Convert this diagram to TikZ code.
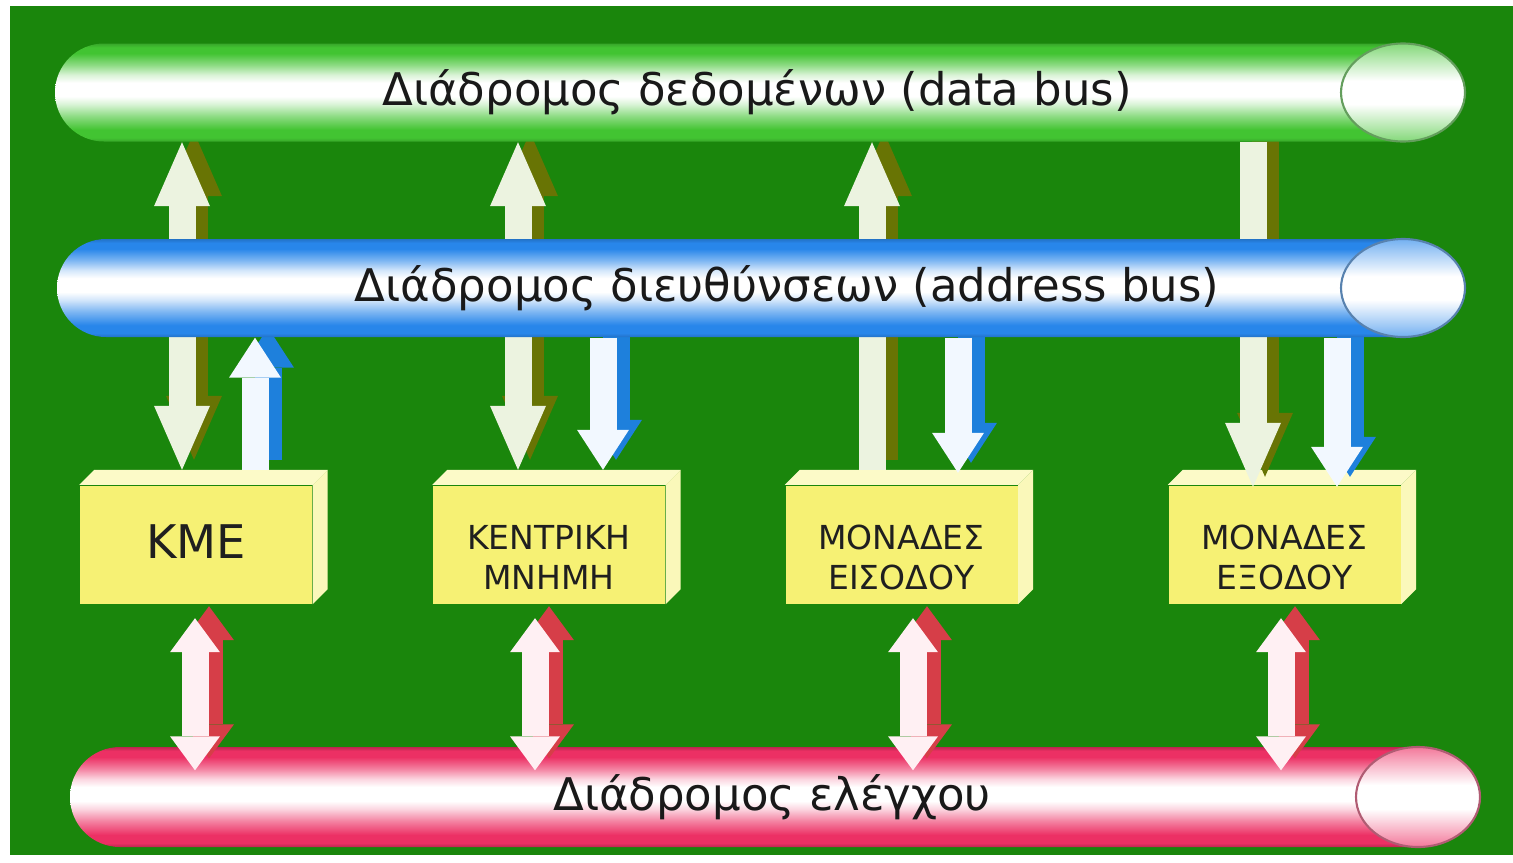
\documentclass[tikz,border=0pt]{standalone}
\usepackage{fontspec}
\setmainfont{DejaVu Sans}
\usetikzlibrary{arrows.meta}
\definecolor{bgG}{RGB}{26,134,12}
\definecolor{gbC}{RGB}{66,196,50}
\definecolor{bbC}{RGB}{40,134,234}
\definecolor{rbC}{RGB}{236,48,100}
\definecolor{boxY}{RGB}{246,241,116}
\definecolor{boxTop}{RGB}{252,250,200}
\definecolor{boxSide}{RGB}{250,248,186}
\definecolor{dArr}{RGB}{236,243,224}
\definecolor{dSh}{RGB}{104,116,4}
\definecolor{aArr}{RGB}{242,248,255}
\definecolor{aSh}{RGB}{30,128,220}
\definecolor{cArr}{RGB}{255,240,243}
\definecolor{cSh}{RGB}{214,62,72}
\pgfdeclareverticalshading{gbus}{100bp}{color(0bp)=(gbC!85!black); color(25bp)=(gbC!85!black); color(27bp)=(gbC); color(31bp)=(gbC); color(38bp)=(gbC!60!white); color(44bp)=(gbC!20!white); color(48bp)=(white); color(55bp)=(white); color(59bp)=(gbC!20!white); color(64bp)=(gbC!60!white); color(70bp)=(gbC); color(73bp)=(gbC); color(75bp)=(gbC!85!black); color(100bp)=(gbC!85!black)}
\pgfdeclareverticalshading{bbus}{100bp}{color(0bp)=(bbC!85!black); color(25bp)=(bbC!85!black); color(27bp)=(bbC); color(31bp)=(bbC); color(38bp)=(bbC!60!white); color(44bp)=(bbC!20!white); color(48bp)=(white); color(55bp)=(white); color(59bp)=(bbC!20!white); color(64bp)=(bbC!60!white); color(70bp)=(bbC); color(73bp)=(bbC); color(75bp)=(bbC!85!black); color(100bp)=(bbC!85!black)}
\pgfdeclareverticalshading{rbus}{100bp}{color(0bp)=(rbC!80!black); color(25bp)=(rbC!80!black); color(27bp)=(rbC); color(31bp)=(rbC); color(38bp)=(rbC!60!white); color(44bp)=(rbC!20!white); color(48bp)=(white); color(55bp)=(white); color(59bp)=(rbC!20!white); color(64bp)=(rbC!60!white); color(70bp)=(rbC); color(73bp)=(rbC); color(75bp)=(rbC!80!black); color(100bp)=(rbC!80!black)}
\pgfdeclareverticalshading{gcap}{100bp}{color(0bp)=(gbC!65!white); color(25bp)=(gbC!65!white); color(44bp)=(white); color(56bp)=(white); color(75bp)=(gbC!65!white); color(100bp)=(gbC!65!white)}
\pgfdeclareverticalshading{bcap}{100bp}{color(0bp)=(bbC!65!white); color(25bp)=(bbC!65!white); color(44bp)=(white); color(56bp)=(white); color(75bp)=(bbC!65!white); color(100bp)=(bbC!65!white)}
\pgfdeclareverticalshading{rcap}{100bp}{color(0bp)=(rbC!65!white); color(25bp)=(rbC!65!white); color(44bp)=(white); color(56bp)=(white); color(75bp)=(rbC!65!white); color(100bp)=(rbC!65!white)}
\pgfdeclarelayer{back}
\pgfdeclarelayer{mid}
\pgfdeclarelayer{front}
\pgfsetlayers{back,mid,main,front}
% #1 body shading, #2 cap shading, #3 cap outline, #4 left x, #5 cap centre x, #6 centre y, #7 half height
\newcommand{\drawbus}[7]{%
  \shade[shading=#1] (#5,#6+#7) -- (#4+#7,#6+#7) arc[start angle=90,end angle=270,x radius=#7,y radius=#7] -- (#5,#6-#7) -- cycle;
  \shade[shading=#2, draw=#3, line width=0.6pt] (#5,#6) ellipse[x radius=0.62, y radius=#7];
}
\newcommand{\boxbevel}[1]{%
  \fill[boxTop] (#1.north west) -- ([shift={(0.15,0.15)}]#1.north west) -- ([shift={(0.15,0.15)}]#1.north east) -- (#1.north east) -- cycle;
  \fill[boxSide] (#1.north east) -- ([shift={(0.15,0.15)}]#1.north east) -- ([shift={(0.15,0.15)}]#1.south east) -- (#1.south east) -- cycle;
}
\tikzset{
  dtip/.tip={Triangle[width=0.56cm,length=0.64cm,line width=0pt]},
  atip/.tip={Triangle[width=0.52cm,length=0.40cm,line width=0pt]},
  ctip/.tip={Triangle[width=0.50cm,length=0.34cm,line width=0pt]},
  shaft/.style={line width=0.27cm},
  dmain/.style={shaft, draw=dArr},
  dshade/.style={shaft, draw=dSh, transform canvas={shift={(0.12,0.10)}}},
  amain/.style={shaft, draw=aArr},
  ashade/.style={shaft, draw=aSh, transform canvas={shift={(0.13,0.10)}}},
  cmain/.style={shaft, draw=cArr},
  cshade/.style={shaft, draw=cSh, transform canvas={shift={(0.14,0.12)}}},
  bustxt/.style={inner sep=0pt, text=black!90, font=\fontsize{12.8}{15}\selectfont},
  unitbox/.style={rectangle, fill=boxY, minimum width=2.32cm, minimum height=1.18cm, inner sep=0pt},
  boxtxt/.style={align=center, inner sep=0pt, text=black!88, font=\fontsize{9.4}{11.4}\selectfont},
}
\begin{document}
\begin{tikzpicture}
\useasboundingbox (0,0) rectangle (15.13,8.62);
\begin{pgfonlayer}{back}
  \fill[white] (0,0) rectangle (15.13,8.62);
  \fill[bgG] (0.10,0.07) rectangle (15.13,8.56);
  % boxes
  \node[unitbox] (kme) at (1.96,3.175) {};
  \node[unitbox] (mem) at (5.49,3.175) {};
  \node[unitbox] (inp) at (9.015,3.175) {};
  \node[unitbox] (out) at (12.845,3.175) {};
  \boxbevel{kme}\boxbevel{mem}\boxbevel{inp}\boxbevel{out}
  \node[boxtxt, font=\fontsize{13.2}{16}\selectfont] (kmetxt) at ([yshift=0.03cm]kme.center) {ΚΜΕ};
  \node[boxtxt] (memtxt) at ([yshift=-0.13cm]mem.center) {ΚΕΝΤΡΙΚΗ\\ΜΝΗΜΗ};
  \node[boxtxt] (inptxt) at ([yshift=-0.13cm]inp.center) {ΜΟΝΑΔΕΣ\\ΕΙΣΟΔΟΥ};
  \node[boxtxt] (outtxt) at ([yshift=-0.13cm]out.center) {ΜΟΝΑΔΕΣ\\ΕΞΟΔΟΥ};
\end{pgfonlayer}
% buses
\drawbus{gbus}{gcap}{gbC!45!gray}{0.55}{14.03}{7.695}{0.49}
\drawbus{bbus}{bcap}{bbC!45!gray}{0.57}{14.03}{5.74}{0.49}
\drawbus{rbus}{rcap}{rbC!45!gray}{0.70}{14.18}{0.65}{0.50}
\node[bustxt, minimum height=0.98cm] (dbus) at (7.57,7.695) {Διάδρομος δεδομένων (data bus)};
\node[bustxt, minimum height=0.98cm] (abus) at (7.87,5.74) {Διάδρομος διευθύνσεων (address bus)};
\node[bustxt, minimum height=1.00cm] (cbus) at (7.72,0.65) {Διάδρομος ελέγχου};
% helper coordinates
\coordinate (xd1) at (1.82,0);  \coordinate (xd2) at (5.18,0);
\coordinate (xd3) at (8.72,0);  \coordinate (xd4) at (12.53,0);
\coordinate (xa1) at (2.55,0);  \coordinate (xa2) at (6.03,0);
\coordinate (xa3) at (9.58,0);  \coordinate (xa4) at (13.37,0);
\coordinate (xc1) at (1.95,0);  \coordinate (xc2) at (5.35,0);
\coordinate (xc3) at (9.13,0);  \coordinate (xc4) at (12.81,0);
\coordinate (kmeT) at ([yshift=0.15cm]kme.north);
\coordinate (memT) at ([yshift=0.15cm]mem.north);
\coordinate (inpT) at ([yshift=0.15cm]inp.north);
\coordinate (inpTd) at ([yshift=0.12cm]inp.north);
\coordinate (outTd) at ([yshift=-0.02cm]out.north);
\coordinate (kmeB) at ([yshift=-0.14cm]kme.south);
\coordinate (memB) at ([yshift=-0.14cm]mem.south);
\coordinate (inpB) at ([yshift=-0.14cm]inp.south);
\coordinate (outB) at ([yshift=-0.14cm]out.south);
\coordinate (cbusIn) at ([yshift=-0.24cm]cbus.north);
\begin{pgfonlayer}{mid}
  % data bus connections
  \draw[dshade, dtip-dtip] (dbus.south -| xd1) -- (kmeT -| xd1);
  \draw[dmain,  dtip-dtip] (dbus.south -| xd1) -- (kmeT -| xd1);
  \draw[dshade, dtip-dtip] (dbus.south -| xd2) -- (memT -| xd2);
  \draw[dmain,  dtip-dtip] (dbus.south -| xd2) -- (memT -| xd2);
  \draw[dshade, -dtip] (inpT -| xd3) -- (dbus.south -| xd3);
  \draw[dmain,  -dtip] (inpT -| xd3) -- (dbus.south -| xd3);
  \draw[dshade, -dtip] (dbus.south -| xd4) -- (outTd -| xd4);
  \draw[dmain,  -dtip] (dbus.south -| xd4) -- (outTd -| xd4);
  % address bus connections
  \draw[ashade, -atip] (kmeT -| xa1) -- (abus.south -| xa1);
  \draw[amain,  -atip] (kmeT -| xa1) -- (abus.south -| xa1);
  \draw[ashade, -atip] (abus.south -| xa2) -- (memT -| xa2);
  \draw[amain,  -atip] (abus.south -| xa2) -- (memT -| xa2);
  \draw[ashade, -atip] (abus.south -| xa3) -- (inpTd -| xa3);
  \draw[amain,  -atip] (abus.south -| xa3) -- (inpTd -| xa3);
  \draw[ashade, -atip] (abus.south -| xa4) -- (outTd -| xa4);
  \draw[amain,  -atip] (abus.south -| xa4) -- (outTd -| xa4);
\end{pgfonlayer}
\begin{pgfonlayer}{front}
  % control bus connections
  \draw[cshade, ctip-ctip] (kmeB -| xc1) -- (cbusIn -| xc1);
  \draw[cmain,  ctip-ctip] (kmeB -| xc1) -- (cbusIn -| xc1);
  \draw[cshade, ctip-ctip] (memB -| xc2) -- (cbusIn -| xc2);
  \draw[cmain,  ctip-ctip] (memB -| xc2) -- (cbusIn -| xc2);
  \draw[cshade, ctip-ctip] (inpB -| xc3) -- (cbusIn -| xc3);
  \draw[cmain,  ctip-ctip] (inpB -| xc3) -- (cbusIn -| xc3);
  \draw[cshade, ctip-ctip] (outB -| xc4) -- (cbusIn -| xc4);
  \draw[cmain,  ctip-ctip] (outB -| xc4) -- (cbusIn -| xc4);
\end{pgfonlayer}
\end{tikzpicture}
\end{document}
